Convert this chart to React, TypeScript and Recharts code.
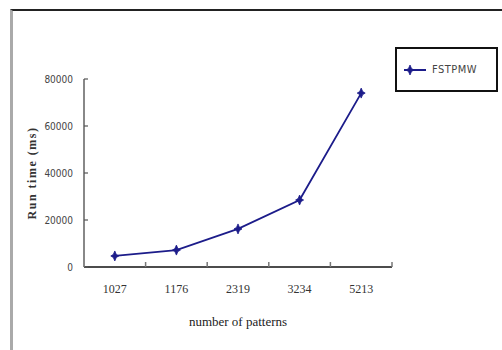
import { LineChart, Line, XAxis, YAxis, Label } from 'recharts';

const patterns = ['1027', '1176', '2319', '3234', '5213'];
const runTimes = [4700, 7200, 16200, 28500, 74000];
const yTicks = [0, 20000, 40000, 60000, 80000];
const bandEdges = [1, 2, 3, 4, 5];
const seriesName = 'FSTPMW';

const data = patterns.map((name, i) => ({ name, pos: i + 0.5, value: runTimes[i] }));

const navy = '#1c1c8a';

const StarDot = (props: any) => {
  const { cx, cy } = props;
  if (cx == null || cy == null) return null;
  return (
    <path
      d={`M${cx},${cy - 5} L${cx + 1.5},${cy - 1.5} L${cx + 4},${cy} L${cx + 1.5},${cy + 1.5} L${cx},${cy + 5} L${cx - 1.5},${cy + 1.5} L${cx - 4},${cy} L${cx - 1.5},${cy - 1.5} Z`}
      fill={navy}
      stroke={navy}
      strokeWidth={0.8}
    />
  );
};

// short upward tick marks between categories
const EdgeTick = (props: any) => {
  const { x, y } = props;
  return <line x1={x} y1={y - 5} x2={x} y2={y} stroke='#777' strokeWidth={1.5} />;
};

const LegendBox = () => (
  <div
    style={{
      position: 'absolute',
      left: 395,
      top: 47,
      width: 103,
      height: 45,
      border: '2px solid #111',
      boxSizing: 'border-box',
      background: '#fff',
      display: 'flex',
      alignItems: 'center',
      paddingLeft: 7,
    }}
  >
    <svg width={22} height={12}>
      <line x1={0} y1={6} x2={22} y2={6} stroke={navy} strokeWidth={2} />
      <StarDot cx={6} cy={6} />
    </svg>
    <span
      style={{
        marginLeft: 6,
        fontFamily: 'DejaVu Sans Condensed',
        fontSize: 11,
        color: '#444',
        letterSpacing: 0.5,
      }}
    >
      {seriesName}
    </span>
  </div>
);

export default function App() {
  return (
    <div style={{ position: 'absolute', left: 0, top: 0, width: 502, height: 350, background: '#fff', overflow: 'hidden' }}>
      <div
        style={{
          position: 'absolute',
          left: 10,
          top: 9,
          width: 500,
          height: 350,
          borderTop: '2px solid #222',
          borderLeft: '3px solid #aaa',
        }}
      />
      <div style={{ position: 'absolute', left: 0, top: 0 }}>
        <LineChart width={502} height={350} data={data} margin={{ top: 79, right: 110, left: 0, bottom: 0 }}>
          <XAxis
            xAxisId='b'
            dataKey='name'
            height={82}
            padding={{ left: 30.8, right: 30.8 }}
            axisLine={false}
            tickLine={false}
            tickSize={0}
            tickMargin={16}
            tick={{ fill: '#333', fontSize: 12, fontFamily: 'Liberation Serif' }}
          >
            <Label
              value='number of patterns'
              position='insideBottom'
              offset={24}
              style={{ fill: '#222', fontSize: 13, fontFamily: 'Liberation Serif' }}
            />
          </XAxis>
          <XAxis
            xAxisId='a'
            dataKey='pos'
            type='number'
            domain={[0, 5]}
            ticks={bandEdges}
            height={1}
            axisLine={{ stroke: '#111', strokeWidth: 1.5 }}
            tickLine={false}
            tickSize={0}
            tickMargin={0}
            tick={<EdgeTick />}
          />
          <YAxis
            width={84}
            domain={[0, 80000]}
            ticks={yTicks}
            axisLine={{ stroke: '#888', strokeWidth: 2 }}
            tickLine={{ stroke: '#555', strokeWidth: 1.2 }}
            tickSize={-4}
            tickMargin={15}
            tick={{ fill: '#444', fontSize: 10, fontFamily: 'DejaVu Sans Condensed' }}
          >
            <Label
              content={(props: any) => {
                const vb = props.viewBox || { x: 0, y: 79, height: 188 };
                const x = vb.x + 32;
                const y = vb.y + vb.height / 2;
                return (
                  <text
                    x={x}
                    y={y}
                    transform={`rotate(-90 ${x} ${y})`}
                    textAnchor='middle'
                    dominantBaseline='central'
                    fill='#333'
                    fontSize={12}
                    fontWeight='bold'
                    letterSpacing={1.5}
                    fontFamily='Liberation Serif'
                  >
                    Run time (ms)
                  </text>
                );
              }}
            />
          </YAxis>
          <Line
            xAxisId='b'
            dataKey='value'
            name={seriesName}
            stroke={navy}
            strokeWidth={1.8}
            dot={<StarDot />}
            activeDot={false}
            isAnimationActive={false}
          />
        </LineChart>
      </div>
      <LegendBox />
    </div>
  );
}
